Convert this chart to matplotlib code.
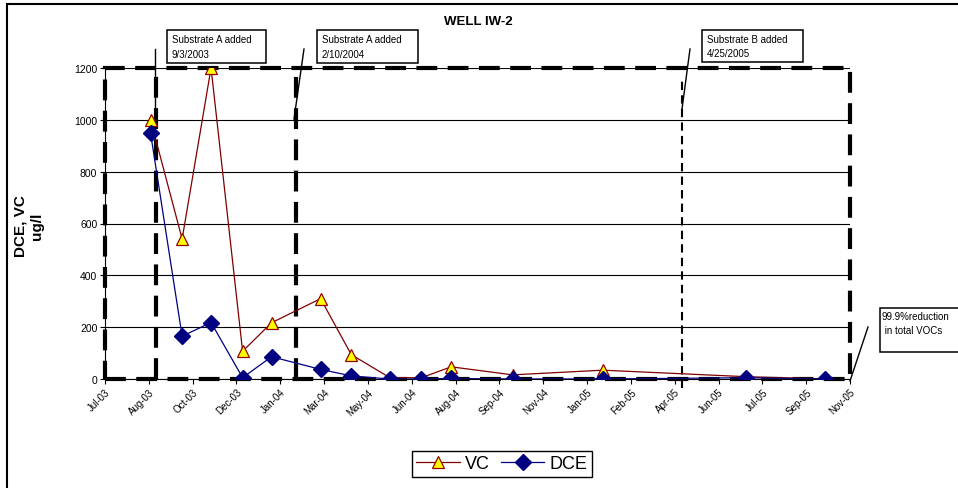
import matplotlib
matplotlib.use("Agg")
import matplotlib.pyplot as plt
import matplotlib.dates as mdates
from matplotlib.patches import Rectangle
from matplotlib.lines import Line2D
import pandas as pd

plt.rcParams['font.family'] = ['Liberation Sans', 'DejaVu Sans']

# sampling dates and concentrations (ug/l)
sample_dates = ['2003-08-28', '2003-10-03', '2003-11-05', '2003-12-11', '2004-01-13',
                '2004-03-09', '2004-04-13', '2004-05-27', '2004-07-02', '2004-08-05',
                '2004-10-14', '2005-01-25', '2005-07-07', '2005-10-05']
vc = [1000, 540, 1200, 107, 217, 310, 94, 5, 5, 47, 16, 34, 9, 0.5]
dce = [948, 165, 218, 5, 86, 37, 12, 0, 0, 2, 0, 0, 5, 0]

# substrate injection events
events = ['2003-09-03', '2004-02-10', '2005-04-25']
event_labels = ['Substrate A added\n9/3/2003', 'Substrate A added\n2/10/2004',
                'Substrate B added\n4/25/2005']

x_start = '2003-07-07'
x_step_days = 50
n_steps = 17

W, H = 958, 489


def px(x, y):
    # pixel position (from top-left) to figure fraction
    return x / W, 1 - y / H


dates = pd.to_datetime(sample_dates)
start = pd.Timestamp(x_start)
ticks = [start + pd.Timedelta(days=x_step_days * i) for i in range(n_steps + 1)]

fig = plt.figure(figsize=(W / 100, H / 100), dpi=100)
ax = fig.add_axes([105 / W, 1 - 380 / H, 745 / W, 311 / H])

ax.plot(dates, vc, color='#800000', lw=0.9, marker='^', markersize=8,
        markerfacecolor='#FFFF00', markeredgecolor='#990000', markeredgewidth=0.9,
        label='VC', zorder=3)
ax.plot(dates, dce, color='#000080', lw=0.9, marker='D', markersize=8.5,
        markerfacecolor='#000080', markeredgecolor='#000080', label='DCE', zorder=4)

ax.set_xlim(ticks[0], ticks[-1])
ax.set_ylim(0, 1200)
ax.set_yticks(range(0, 1201, 200))
ax.set_xticks(ticks)
ax.xaxis.set_major_formatter(mdates.DateFormatter('%b-%y'))
ax.tick_params(axis='x', labelsize=7, length=3.5, width=0.8, direction='out', pad=2)
ax.tick_params(axis='y', labelsize=7.5, length=3.5, width=0.8, direction='out', pad=2)
for lbl in ax.get_xticklabels():
    lbl.set_rotation(45)
    lbl.set_ha('right')
    lbl.set_rotation_mode('anchor')

ax.yaxis.grid(True, color='black', lw=0.8)
ax.set_axisbelow(True)
for side in ['top', 'right']:
    ax.spines[side].set_visible(False)
for side in ['left', 'bottom']:
    ax.spines[side].set_linewidth(0.8)

# heavy dashed frame around the plot area
ax.add_patch(Rectangle((0, 0), 1, 1, transform=ax.transAxes, fill=False,
                       edgecolor='black', lw=3, ls=(0, (5, 2.5)),
                       clip_on=False, zorder=1.5))

# event markers
ax.axvline(pd.Timestamp(events[0]), color='black', lw=3, ls=(0, (5, 2.5)), zorder=1.5)
ax.axvline(pd.Timestamp(events[1]), color='black', lw=3, ls=(0, (5, 2.5)), zorder=1.5)
ax.axvline(pd.Timestamp(events[2]), ymin=-0.03, ymax=0.97, color='black', lw=1.5,
           ls=(0, (4, 2.5)), zorder=1.5, clip_on=False)

fig.text(*px(29, 226), 'DCE, VC\nug/l', fontsize=11, fontweight='bold',
         rotation=90, ha='center', va='center', multialignment='center')

fig.text(*px(478, 22), 'WELL IW-2', fontsize=9.5, fontweight='bold',
         ha='center', va='center')

# callout boxes with leader lines
boxes = [(167, 31, 99, 33), (317, 31, 101, 33), (702, 31, 101, 32)]
leaders = [((155, 50), (155, 120)), ((304, 50), (294, 120)), ((690, 50), (682, 110))]
for (bx, by, bw, bh), text in zip(boxes, event_labels):
    x0, y0 = px(bx, by + bh)
    fig.patches.append(Rectangle((x0, y0), bw / W, bh / H, transform=fig.transFigure,
                                 facecolor='white', edgecolor='black', lw=1.1, zorder=5))
    fig.text(*px(bx + 5, by + bh / 2), text, fontsize=7, ha='left', va='center',
             linespacing=1.55, zorder=6)

x0, y0 = px(880, 353)
fig.patches.append(Rectangle((x0, y0), 100 / W, 44 / H, transform=fig.transFigure,
                             facecolor='white', edgecolor='black', lw=1.1, zorder=5))
fig.text(*px(882, 324), '99.9%reduction\n in total VOCs', fontsize=7, ha='left',
         va='center', linespacing=1.5, zorder=6)
leaders.append(((868, 328), (850, 382)))

for (xa, ya), (xb, yb) in leaders:
    p1, p2 = px(xa, ya), px(xb, yb)
    fig.lines.append(Line2D([p1[0], p2[0]], [p1[1], p2[1]], transform=fig.transFigure,
                            color='black', lw=1.0, zorder=6))

# outer chart border
x0, y0 = px(7, 500)
fig.patches.append(Rectangle((x0, y0), 1.2, (500 - 5) / H, transform=fig.transFigure,
                             fill=False, edgecolor='black', lw=1.5))

leg = fig.legend(loc='center', bbox_to_anchor=px(502, 465), ncol=2, fontsize=13,
                 frameon=True, fancybox=False, edgecolor='black', framealpha=1,
                 handlelength=2.4, handletextpad=0.3, columnspacing=0.6,
                 borderpad=0.25, borderaxespad=0)
leg.get_frame().set_linewidth(1.0)

fig.savefig('out.png', dpi=100)
